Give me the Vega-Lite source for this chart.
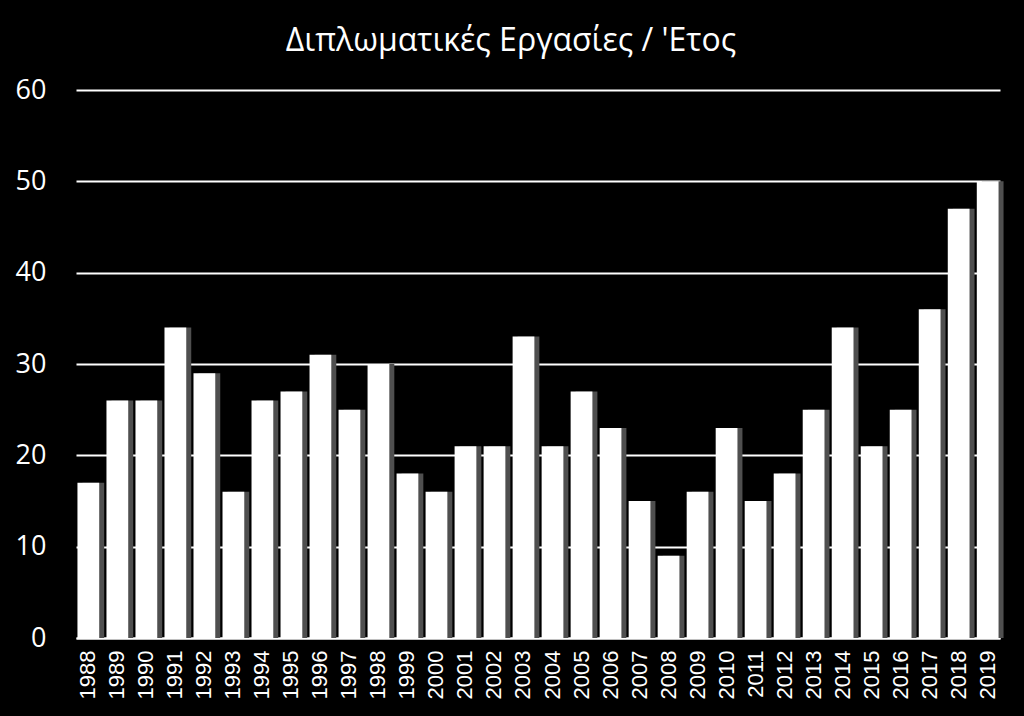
{
  "$schema": "https://vega.github.io/schema/vega-lite/v6.json",
  "autosize": {"type": "none"},
  "width": 924,
  "height": 548,
  "padding": {"left": 76, "top": 90, "right": 24, "bottom": 78},
  "background": "#000000",
  "title": {
    "text": "Διπλωματικές Εργασίες / 'Ετος",
    "font": "Open Sans",
    "fontSize": 32,
    "fontWeight": "normal",
    "color": "#ffffff",
    "anchor": "middle",
    "dx": -27,
    "offset": 18
  },
  "data": {
    "values": [
      {"year": "1988", "count": 17}, {"year": "1989", "count": 26}, {"year": "1990", "count": 26},
      {"year": "1991", "count": 34}, {"year": "1992", "count": 29}, {"year": "1993", "count": 16},
      {"year": "1994", "count": 26}, {"year": "1995", "count": 27}, {"year": "1996", "count": 31},
      {"year": "1997", "count": 25}, {"year": "1998", "count": 30}, {"year": "1999", "count": 18},
      {"year": "2000", "count": 16}, {"year": "2001", "count": 21}, {"year": "2002", "count": 21},
      {"year": "2003", "count": 33}, {"year": "2004", "count": 21}, {"year": "2005", "count": 27},
      {"year": "2006", "count": 23}, {"year": "2007", "count": 15}, {"year": "2008", "count": 9},
      {"year": "2009", "count": 16}, {"year": "2010", "count": 23}, {"year": "2011", "count": 15},
      {"year": "2012", "count": 18}, {"year": "2013", "count": 25}, {"year": "2014", "count": 34},
      {"year": "2015", "count": 21}, {"year": "2016", "count": 25}, {"year": "2017", "count": 36},
      {"year": "2018", "count": 47}, {"year": "2019", "count": 50}
    ]
  },
  "encoding": {
    "x": {
      "field": "year",
      "type": "nominal",
      "sort": null,
      "scale": {"paddingInner": 0.25, "paddingOuter": 0.05},
      "axis": {
        "title": null,
        "labelAngle": 270,
        "labelFont": "Liberation Sans",
        "labelFontSize": 22,
        "labelColor": "#ffffff",
        "labelPadding": 12,
        "ticks": false,
        "domain": true,
        "domainColor": "#ffffff",
        "domainWidth": 2
      }
    },
    "y": {
      "field": "count",
      "type": "quantitative",
      "scale": {"domain": [0, 60]},
      "axis": {
        "title": null,
        "values": [0, 10, 20, 30, 40, 50, 60],
        "labelFont": "Open Sans",
        "labelFontSize": 27,
        "labelColor": "#ffffff",
        "labelPadding": 30,
        "ticks": false,
        "domain": false,
        "grid": true,
        "gridColor": "#ffffff",
        "gridWidth": 2
      }
    }
  },
  "layer": [
    {"mark": {"type": "bar", "color": "#4f4f4f", "xOffset": 5}},
    {"mark": {"type": "bar", "color": "#ffffff"}}
  ],
  "config": {"view": {"stroke": null}}
}
